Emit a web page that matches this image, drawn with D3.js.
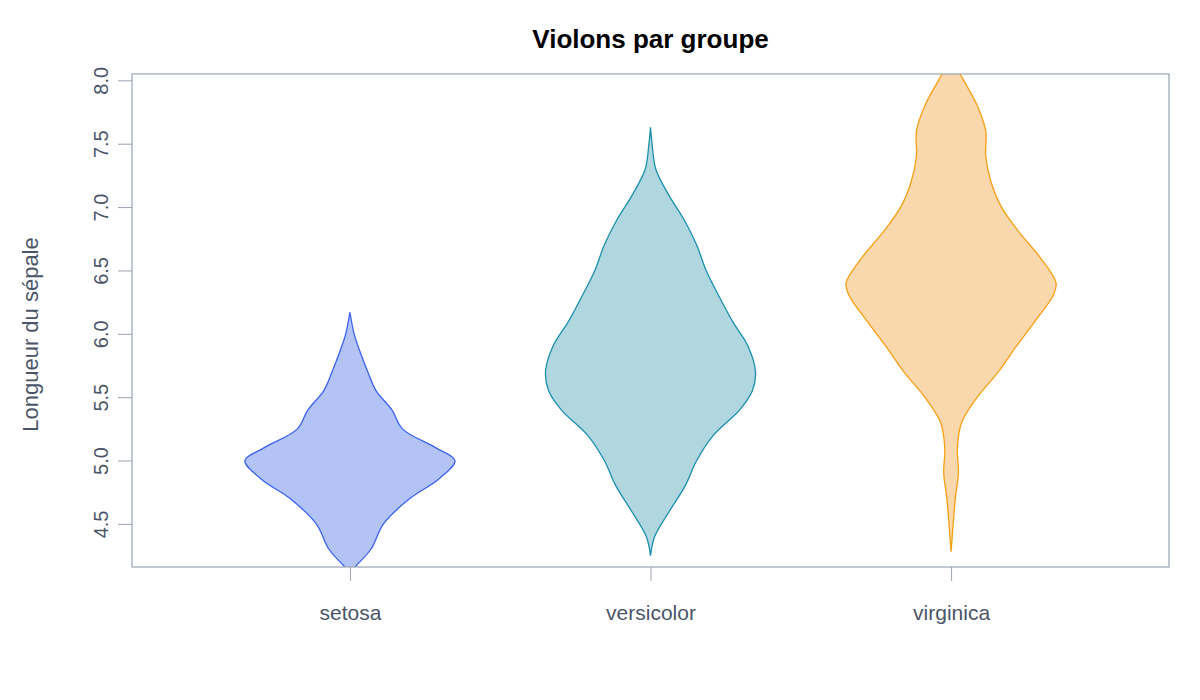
<!DOCTYPE html>
<html>
<head>
<meta charset="utf-8">
<script src="https://cdn.jsdelivr.net/npm/d3@7"></script>
<style>
  body { margin: 0; background: #fff; }
  text { font-family: "Liberation Sans", Arial, sans-serif; }
</style>
</head>
<body>
<svg id="chart" width="1200" height="700"></svg>
<script>
const groups = ['setosa', 'versicolor', 'virginica']
const fills = ['#b3c3f5', '#b0d6e0', '#f9d8ad']
const strokes = ['#3c62ee', '#1b90aa', '#f5a015']
const yTicks = [4.5, 5.0, 5.5, 6.0, 6.5, 7.0, 7.5, 8.0]

// density profiles: [sepal length, relative half width]
const setosaDensity = [[4.1, 0], [4.16, 0.05], [4.3, 0.2], [4.5, 0.32], [4.7, 0.57], [4.85, 0.84], [5.0, 1.0],
  [5.1, 0.82], [5.25, 0.5], [5.4, 0.4], [5.55, 0.25], [5.7, 0.17], [5.85, 0.1], [6.0, 0.04], [6.17, 0]]
const versicolorDensity = [[4.25, 0], [4.4, 0.04], [4.6, 0.18], [4.8, 0.33], [5.0, 0.44], [5.2, 0.6], [5.4, 0.85],
  [5.55, 0.97], [5.7, 1.0], [5.9, 0.93], [6.1, 0.78], [6.3, 0.65], [6.5, 0.53], [6.7, 0.44], [6.9, 0.32],
  [7.1, 0.17], [7.3, 0.05], [7.5, 0.015], [7.63, 0]]
const virginicaDensity = [[4.28, 0], [4.5, 0.02], [4.7, 0.04], [4.9, 0.07], [5.1, 0.06], [5.3, 0.1], [5.5, 0.25],
  [5.7, 0.45], [5.9, 0.62], [6.1, 0.8], [6.3, 0.97], [6.4, 1.0], [6.6, 0.85], [6.8, 0.65], [7.0, 0.48],
  [7.2, 0.38], [7.4, 0.33], [7.6, 0.33], [7.8, 0.25], [8.0, 0.12], [8.1, 0.05]]
const densities = [setosaDensity, versicolorDensity, virginicaDensity]

const margin = { top: 74, right: 31, bottom: 133, left: 132 }
const width = 1200, height = 700
const innerW = width - margin.left - margin.right
const innerH = height - margin.top - margin.bottom

const svg = d3.select('#chart')
const g = svg.append('g').attr('transform', `translate(${margin.left},${margin.top})`)

const x = d3.scalePoint().domain(groups).range([0, innerW]).padding(0.725)
const y = d3.scaleLinear().domain([4.16, 8.05]).range([innerH, 0])
const w = d3.scaleLinear().domain([0, 1]).range([0, 105])

g.append('clipPath').attr('id', 'clip').append('rect').attr('width', innerW).attr('height', innerH)

const area = d3.area()
  .curve(d3.curveCatmullRom)
  .y((d) => y(d[0]))

g.append('g').attr('clip-path', 'url(#clip)')
  .selectAll('path')
  .data(groups)
  .join('path')
  .attr('d', (k, i) => area
    .x0((d) => x(k) - w(d[1]))
    .x1((d) => x(k) + w(d[1]))(densities[i]))
  .attr('fill', (k, i) => fills[i])
  .attr('stroke', (k, i) => strokes[i])
  .attr('stroke-width', 1.3)

// frame
g.append('rect').attr('width', innerW).attr('height', innerH)
  .attr('fill', 'none').attr('stroke', '#9aa3b0').attr('stroke-width', 1.2)

const axisColor = '#9aa3b0', textColor = '#4a5568'

const yAxis = g.append('g').call(d3.axisLeft(y).tickValues(yTicks).tickFormat(d3.format('.1f')).tickSize(14).tickSizeOuter(0))
yAxis.select('.domain').remove()
yAxis.selectAll('line').attr('stroke', axisColor)
yAxis.selectAll('text')
  .attr('fill', textColor).attr('font-size', 20)
  .attr('x', 0).attr('y', 0).attr('dy', 0)
  .attr('text-anchor', 'middle')
  .attr('transform', 'translate(-24,0) rotate(-90)')

const xAxis = g.append('g').attr('transform', `translate(0,${innerH})`)
  .call(d3.axisBottom(x).tickSize(14).tickSizeOuter(0))
xAxis.select('.domain').remove()
xAxis.selectAll('line').attr('stroke', axisColor)
xAxis.selectAll('text').attr('fill', textColor).attr('font-size', 21).attr('y', 38)

svg.append('text').attr('x', margin.left + innerW / 2).attr('y', 48)
  .attr('text-anchor', 'middle').attr('font-size', 26).attr('font-weight', 'bold').attr('fill', '#000')
  .text('Violons par groupe')

svg.append('text').attr('transform', `translate(38,${margin.top + innerH / 2 + 14}) rotate(-90)`)
  .attr('text-anchor', 'middle').attr('font-size', 22).attr('fill', textColor)
  .text('Longueur du sépale')
</script>
</body>
</html>
